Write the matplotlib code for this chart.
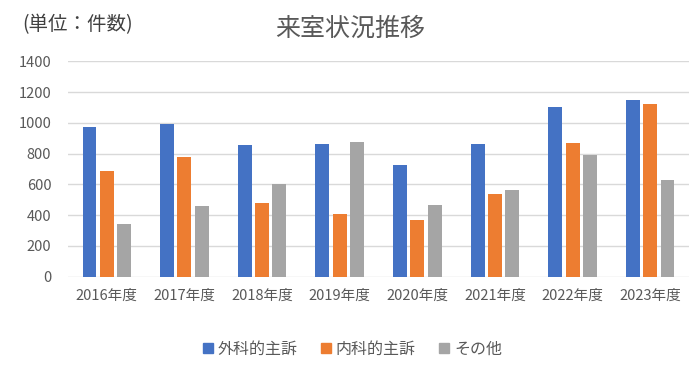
import matplotlib
matplotlib.use("Agg")
import matplotlib.pyplot as plt
import numpy as np

plt.rcParams["font.family"] = ["Noto Sans CJK JP", "DejaVu Sans"]

years = ["2016年度", "2017年度", "2018年度", "2019年度",
         "2020年度", "2021年度", "2022年度", "2023年度"]
surgical = [975, 992, 854, 865, 724, 860, 1101, 1146]
internal = [689, 780, 481, 405, 366, 535, 869, 1125]
other = [342, 457, 605, 873, 464, 561, 791, 631]

series = [
    ("外科的主訴", surgical, "#4472C4"),
    ("内科的主訴", internal, "#ED7D31"),
    ("その他", other, "#A5A5A5"),
]

fig = plt.figure(figsize=(7.0, 3.69), dpi=100)
ax = fig.add_axes([68 / 700, 1 - 276.7 / 369, 621 / 700, 215.4 / 369])

x = np.arange(len(years))
width = 0.18
step = 0.223
for i, (name, vals, color) in enumerate(series):
    ax.bar(x + (i - 1) * step, vals, width, color=color, label=name, zorder=2)

ax.set_xlim(-0.5, len(years) - 0.5)
ax.set_ylim(0, 1400)
ax.set_yticks(range(0, 1401, 200))
ax.set_xticks(x)
ax.set_xticklabels(years)
ax.yaxis.grid(True, color="#d9d9d9", linewidth=1, zorder=0)
ax.set_axisbelow(True)
for s in ax.spines.values():
    s.set_visible(False)
ax.tick_params(axis="both", length=0, labelsize=10.5, colors="#595959")
ax.tick_params(axis="y", pad=12)
ax.tick_params(axis="x", pad=9)

fig.text(0.5, 1 - 29 / 369, "来室状況推移", ha="center", va="center",
         fontsize=18, color="#595959")
fig.text(22 / 700, 1 - 25 / 369, "(単位：件数)", ha="left", va="center",
         fontsize=14, color="#404040")

handles = [plt.Line2D([], [], marker="s", linestyle="", markersize=7,
                      color=c) for _, _, c in series]
fig.legend(handles, [n for n, _, _ in series], loc="center",
           bbox_to_anchor=(0.5, 1 - 349 / 369), ncol=3, frameon=False,
           fontsize=11.5, handletextpad=0.0, columnspacing=1.2,
           handlelength=1.2, labelcolor="#595959")

fig.savefig("out.png", dpi=100)
